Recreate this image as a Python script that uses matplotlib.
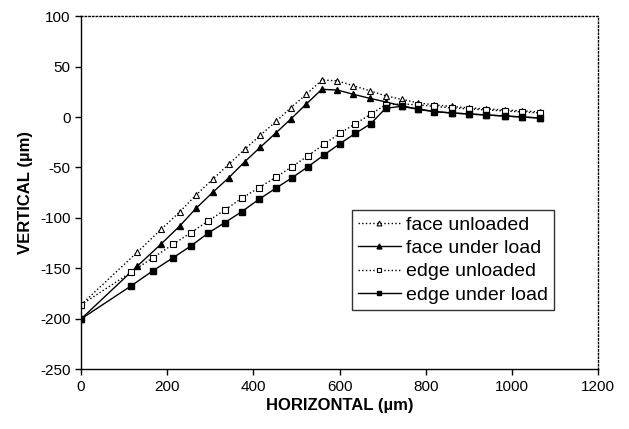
import matplotlib
matplotlib.use("Agg")
import matplotlib.pyplot as plt

plt.rcParams["font.family"] = ["Liberation Sans", "DejaVu Sans"]
plt.rcParams["axes.unicode_minus"] = False   # plain hyphen as in the original

# horizontal positions (um) of the measured points
x_face = [0, 131, 186, 229, 267, 306, 343, 380, 416, 453, 487, 523, 559,
          595, 632, 670, 707, 744, 782, 820, 860, 900, 941, 983, 1024, 1065]
x_edge = [0, 117, 167, 214, 255, 295, 334, 373, 413, 452, 490, 527, 564,
          601, 637, 672, 707, 744, 782, 820, 860, 900, 941, 983, 1024, 1065]

# vertical deflection (um)
face_unloaded = [-186, -133.7, -111.2, -94, -77.2, -61.5, -46.8, -32, -18.1,
                 -4.3, 9.2, 22.5, 36.6, 35.8, 31, 26, 21, 17.5, 14, 12, 10.5,
                 9, 8, 7, 6, 5]
face_load = [-200, -147.5, -125.7, -108, -90.4, -74.5, -60.1, -44.3, -30,
             -15.5, -2, 12.9, 27.4, 26.7, 22.5, 18.5, 15, 11, 8, 5.5, 4, 3,
             2, 1, 0, -1]
edge_unloaded = [-186, -153.5, -139.3, -126, -114.5, -103, -92, -80.5, -70,
                 -59.7, -49.2, -38.3, -27, -16.1, -6.6, 2.7, 12, 13, 12, 10.5,
                 9, 8, 7, 6, 5, 4]
edge_load = [-200, -167, -152.2, -139.3, -127.7, -115, -104.5, -93.8, -81.5,
             -70.6, -60.1, -49.2, -37.6, -26.4, -16.1, -6.9, 8.6, 10.6, 7.6,
             5.2, 4, 3, 2, 1, 0, -1]

fig = plt.figure(figsize=(6.29, 4.29), dpi=100)
ax = fig.add_axes([0.1288, 0.1387, 0.8219, 0.824])

ax.plot(x_face, face_unloaded, ":", color="black", lw=1.0, marker="^", ms=5,
        mfc="white", mec="black", mew=0.8, label="face unloaded")
ax.plot(x_face, face_load, "-", color="black", lw=1.0, marker="^", ms=5,
        mfc="black", mec="black", label="face under load")
ax.plot(x_edge, edge_unloaded, ":", color="black", lw=1.0, marker="s", ms=5,
        mfc="white", mec="black", mew=0.8, label="edge unloaded")
ax.plot(x_edge, edge_load, "-", color="black", lw=1.0, marker="s", ms=5,
        mfc="black", mec="black", label="edge under load")

ax.set_xlim(0, 1200)
ax.set_ylim(-250, 100)
ax.set_xticks(range(0, 1201, 200))
ax.set_yticks(range(-250, 101, 50))
ax.tick_params(direction="out", length=4, width=1, labelsize=11, colors="black")

for s in ["top", "right"]:
    ax.spines[s].set_linestyle(":")
    ax.spines[s].set_linewidth(1)
for s in ["left", "bottom"]:
    ax.spines[s].set_linewidth(1)

ax.set_xlabel("HORIZONTAL (\u00b5m)", fontsize=12, fontweight="bold", labelpad=3)
ax.set_ylabel("VERTICAL (\u00b5m)", fontsize=12, fontweight="bold", labelpad=5)

leg = ax.legend(loc="upper left", bbox_to_anchor=(0.524, 0.451), borderaxespad=0,
                fontsize=14, frameon=True, fancybox=False, shadow=False,
                handlelength=2.2, handletextpad=0.3, labelspacing=0.3,
                borderpad=0.3, markerscale=0.7)
leg.get_frame().set_edgecolor("black")
leg.get_frame().set_linewidth(1)

fig.savefig("out.png", dpi=100)
